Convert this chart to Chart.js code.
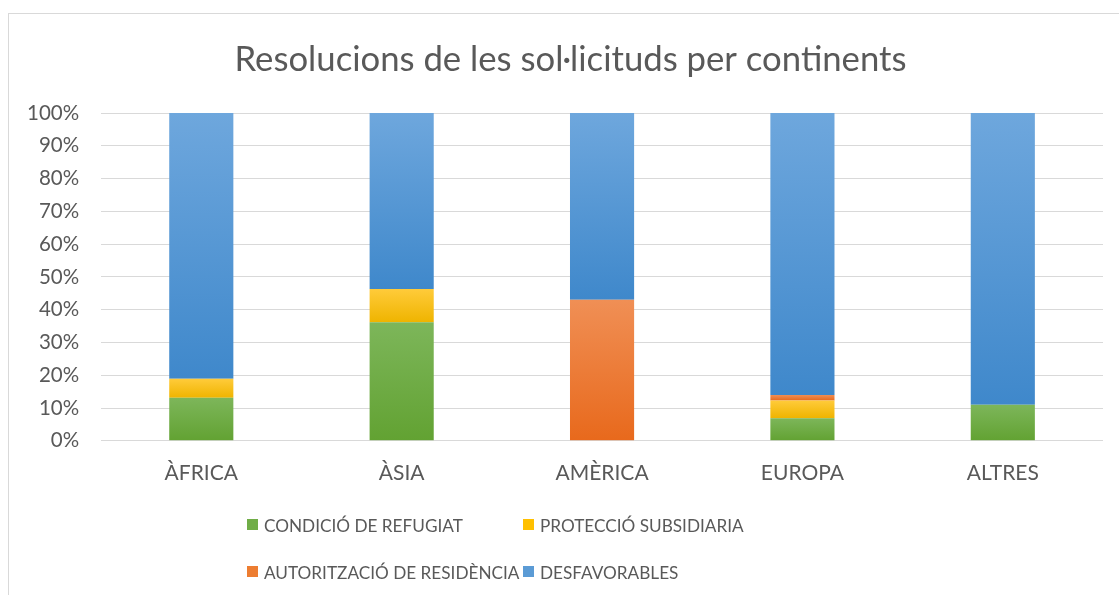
<!DOCTYPE html>
<html>
<head>
<meta charset="utf-8">
<script src="https://cdn.jsdelivr.net/npm/chart.js@4.4.0/dist/chart.umd.min.js"></script>
<style>
  html, body { margin: 0; padding: 0; background: #fff; }
  #wrap { position: relative; width: 1119px; height: 595px; overflow: hidden; }
  #frame { position: absolute; left: 8px; top: 13px; width: 1200px; height: 700px; border: 1px solid #d9d9d9; box-sizing: border-box; }
  canvas { position: absolute; left: 0; top: 0; }
</style>
</head>
<body>
<div id="wrap">
  <div id="frame"></div>
  <canvas id="chart" width="1119" height="595"></canvas>
</div>
<script>
// Data (percent of resolutions)
const categories = ['ÀFRICA', 'ÀSIA', 'AMÈRICA', 'EUROPA', 'ALTRES'];
const refugiat = [13.1, 36.2, 0, 6.9, 11];
const subsidiaria = [5.8, 10.1, 0, 5.4, 0];
const residencia = [0, 0, 43, 1.7, 0];
const desfavorables = [81.1, 53.7, 57, 86, 89];
const yTicks = [0, 10, 20, 30, 40, 50, 60, 70, 80, 90, 100];
const chartTitle = 'Resolucions de les sol·licituds per continents';

const seriesNames = ['CONDICIÓ DE REFUGIAT', 'PROTECCIÓ SUBSIDIARIA', 'AUTORITZACIÓ DE RESIDÈNCIA', 'DESFAVORABLES'];
const seriesData = [refugiat, subsidiaria, residencia, desfavorables];
// light (top) / dark (bottom) shades, Excel-like gradient fill
const seriesColors = [
    ['#7db65a', '#62a232'],
    ['#ffcb3a', '#efb400'],
    ['#f08f55', '#e8691c'],
    ['#6ea7dd', '#3f88cb']
];
const legendColors = ['#70ad47', '#ffc000', '#ed7d31', '#5b9bd5'];

const FONT = 'Lato, "Open Sans", sans-serif';
const TEXT = '#595959';

// fill each segment with a vertical gradient spanning just that segment
function segmentFill(dsIndex) {
    return function(ctx) {
        const chart = ctx.chart;
        const y = chart.scales.y;
        if (!y || ctx.dataIndex === undefined || y.top === undefined) return legendColors[dsIndex];
        let start = 0;
        for (let k = 0; k < dsIndex; k++) start += seriesData[k][ctx.dataIndex];
        const end = start + seriesData[dsIndex][ctx.dataIndex];
        const y0 = y.getPixelForValue(start);
        const y1 = y.getPixelForValue(end);
        if (!isFinite(y0) || !isFinite(y1) || y0 === y1) return legendColors[dsIndex];
        const g = chart.ctx.createLinearGradient(0, y1, 0, y0);
        g.addColorStop(0, seriesColors[dsIndex][0]);
        g.addColorStop(1, seriesColors[dsIndex][1]);
        return g;
    };
}

// title centred like Excel (over the whole frame) + two-column legend
const excelBits = {
    id: 'excelBits',
    afterDraw(chart) {
        const c = chart.ctx;
        c.save();
        c.font = '34.7px ' + FONT;
        c.fillStyle = TEXT;
        c.textAlign = 'center';
        c.textBaseline = 'middle';
        c.fillText(chartTitle, 570.5, 60);

        c.font = '17.2px ' + FONT;
        c.textAlign = 'left';
        const cols = [247, 523];
        const rows = [525, 572];
        chart.data.datasets.forEach((ds, i) => {
            const x = cols[i % 2];
            const yy = rows[Math.floor(i / 2)];
            c.fillStyle = legendColors[i];
            c.fillRect(x, yy - 6, 11, 11);
            c.fillStyle = TEXT;
            c.fillText(ds.label, x + 17, yy + 1);
        });
        c.restore();
    }
};

new Chart(document.getElementById('chart'), {
    type: 'bar',
    data: {
        labels: categories,
        datasets: seriesNames.map((name, i) => ({
            label: name,
            data: seriesData[i],
            backgroundColor: segmentFill(i),
            borderWidth: 0,
            categoryPercentage: 1,
            barPercentage: 0.32
        }))
    },
    options: {
        responsive: false,
        animation: false,
        layout: { padding: { left: 5, right: 16, top: 113, bottom: 89 } },
        plugins: {
            legend: { display: false },
            tooltip: { enabled: false },
            title: { display: false }
        },
        scales: {
            x: {
                stacked: true,
                grid: { display: false, drawTicks: false },
                border: { display: false },
                ticks: { color: TEXT, font: { family: FONT, size: 21 }, padding: 20 }
            },
            y: {
                stacked: true,
                min: 0,
                max: 100,
                afterBuildTicks(axis) { axis.ticks = yTicks.map(v => ({ value: v })); },
                grid: { color: '#d9d9d9', lineWidth: 1, drawTicks: false },
                border: { display: false },
                ticks: {
                    color: TEXT,
                    font: { family: FONT, size: 20.5 },
                    padding: 22,
                    callback: v => v + '%'
                }
            }
        }
    },
    plugins: [excelBits]
});
</script>
</body>
</html>
